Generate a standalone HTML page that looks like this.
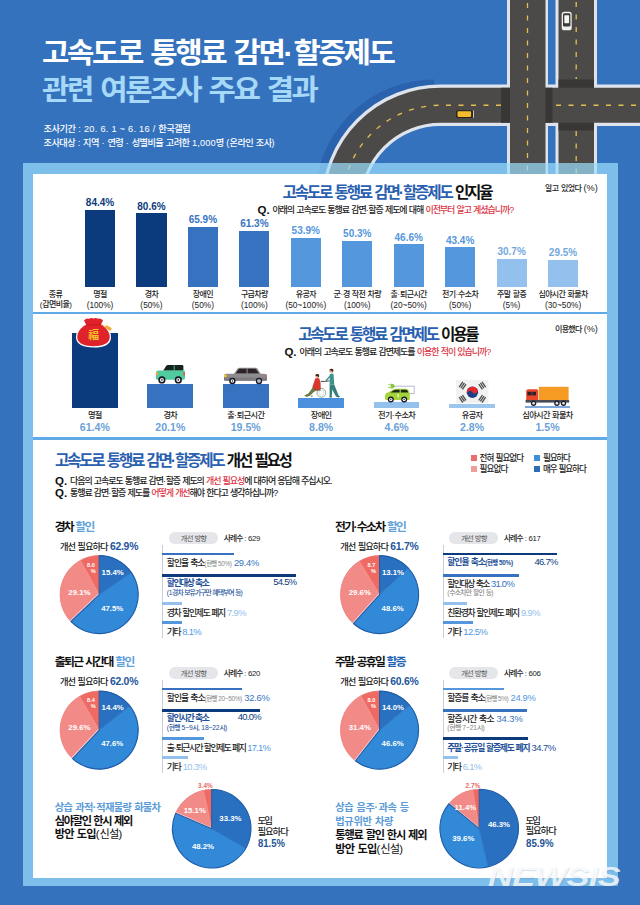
<!DOCTYPE html>
<html lang="ko"><head><meta charset="utf-8"><title>고속도로 통행료 감면·할증제도 관련 여론조사 주요 결과</title>
<style>
html,body{margin:0;padding:0}
body{width:640px;height:905px;overflow:hidden;background:#3572bd;font-family:"Liberation Sans","Noto Sans CJK KR",sans-serif}
#pg{position:relative;width:640px;height:905px;overflow:hidden}
.b{position:absolute}
.t{position:absolute;white-space:nowrap;line-height:1;height:1em;color:var(--c);letter-spacing:var(--ls,0em)}
.s{color:var(--c)}
.k{letter-spacing:calc(var(--ls,0em) - .08em);word-spacing:.08em;font-weight:500}
[style*="font-weight:700"] .k{font-weight:700}
[style*="font-weight:400"] .k{font-weight:400}
.k.r{font-weight:400}
svg.a{position:absolute;left:0;top:0;overflow:visible}
</style></head>
<body>
<div id="pg">
<svg class="a" width="640" height="210" viewBox="0 0 640 210"><path d="M440.5 105.25A98.25 98.25 0 0 0 342.25 203.5V210" transform="translate(-6.3,-5)" fill="none" stroke="#2b62ae" stroke-width="41.5"/><path d="M640 105.25H440.5A98.25 98.25 0 0 0 342.25 203.5V210" fill="none" stroke="#dfe3ec" stroke-width="41.5"/><rect x="507" y="0" width="41" height="200" fill="#dfe3ec"/><rect x="555.5" y="0" width="41.5" height="200" fill="#dfe3ec"/><rect x="558.5" y="0" width="35.5" height="200" fill="#4b4a49"/><path d="M576.2 2V79M576.2 131V200" stroke="#e3c04e" stroke-width="1.3" stroke-dasharray="5 7.5" fill="none"/><rect x="558.5" y="79.5" width="35.5" height="8.5" fill="#383736"/><rect x="558.5" y="122" width="35.5" height="8.5" fill="#383736"/><path d="M640 105.25H440.5A98.25 98.25 0 0 0 342.25 203.5V210" fill="none" stroke="#4b4a49" stroke-width="35"/><rect x="501" y="87.75" width="10" height="35" fill="#383736"/><rect x="545" y="87.75" width="7.5" height="35" fill="#383736"/><path d="M636 105.25H552.5M501 105.25H440.5A98.25 98.25 0 0 0 342.25 203.5V210" stroke="#e3c04e" stroke-width="1.3" stroke-dasharray="5 7.5" fill="none"/><rect x="510" y="0" width="35.5" height="200" fill="#4b4a49"/><path d="M527.5 3V200" stroke="#e3c04e" stroke-width="1.3" stroke-dasharray="5 7.5" fill="none"/><g><rect x="561.7" y="11.7" width="10" height="18.6" rx="2.6" fill="#f1f1ee"/><rect x="563" y="13.2" width="7.4" height="13.4" rx="1.4" fill="#3b3b3b"/><rect x="564.3" y="15.2" width="4.8" height="8" rx="0.6" fill="#f7f7f4"/></g><g><rect x="456" y="110.3" width="17" height="7.6" rx="1.6" fill="#2b2518"/><rect x="457.5" y="111.3" width="13.6" height="5.6" rx="0.8" fill="#f6bb2c"/><rect x="473.2" y="110.4" width="0.8" height="7.4" fill="#e8e8e0"/></g></svg>
<div class="b" style="left:22.50px;top:162.50px;width:595.00px;height:723.70px;background:rgba(156,222,253,0.70);"></div>
<div class="b" style="left:33.00px;top:174.00px;width:574.30px;height:138.00px;background:#fff;"></div>
<div class="b" style="left:33.00px;top:314.20px;width:574.30px;height:122.80px;background:#fff;"></div>
<div class="b" style="left:33.00px;top:439.50px;width:574.30px;height:438.00px;background:#fff;"></div>
<div class="b" style="left:33.00px;top:312.00px;width:574.30px;height:2.20px;background:#5fa9e6;"></div>
<div class="b" style="left:33.00px;top:437.00px;width:574.30px;height:2.50px;background:#5fa9e6;"></div>
<div class="t" style="left:41.60px;top:39.28px;font-size:28.4px;--c:#fff;font-weight:700;transform:scaleX(1.0482);transform-origin:0 0;--sw:22"><span class="k">고속도로 통행료 감면</span>·<span class="k">할증제도</span></div>
<div class="t" style="left:41.60px;top:76.48px;font-size:28.4px;--c:#a6d8f8;font-weight:700;transform:scaleX(1.0475);transform-origin:0 0;--sw:22"><span class="k">관련 여론조사 주요 결과</span></div>
<div class="t" style="left:43.60px;top:124.72px;font-size:9.2px;--c:#fff;--ls:0.029em"><span class="k">조사기간</span> : 20. 6. 1 ~ 6. 16  /  <span class="k">한국갤럽</span></div>
<div class="t" style="left:43.60px;top:138.52px;font-size:9.2px;--c:#fff;--ls:0.015em"><span class="k">조사대상</span> : <span class="k">지역</span> · <span class="k">연령</span> · <span class="k">성별비율 고려한</span> 1,000<span class="k">명</span> (<span class="k">온라인 조사</span>)</div>
<div class="t" style="left:282.60px;top:185.41px;font-size:15.6px;--c:#2a60b0;font-weight:700;--ls:-0.061em"><span class="k">고속도로 통행료 감면</span>·<span class="k">할증제도</span><span class="s" style="--c:#111"> <span class="k">인지율</span></span></div>
<div class="t" style="left:597.80px;top:184.26px;font-size:8.1px;--c:#1c1c1c;--ls:-0.001em;transform:translateX(-100%)"><span class="k">알고 있었다</span> <span class="s" style="font-size:9.2px">(%)</span></div>
<div class="t" style="left:257.60px;top:204.81px;font-size:11.5px;--c:#111;font-weight:700">Q.</div>
<div class="t" style="left:272.40px;top:206.02px;font-size:9px;--c:#222;--ls:-0.037em"><span class="k">아래의 고속로도 통행료 감면</span>·<span class="k">할증 제도에 대해</span> <span class="s" style="--c:#dc3545"><span class="k">이전부터 알고 계셨습니까</span>?</span></div>
<div class="t" style="left:55.50px;top:291.41px;font-size:8px;--c:#222;transform:translateX(-50%)"><span class="k">종류</span></div>
<div class="t" style="left:55.80px;top:301.11px;font-size:8px;--c:#222;transform:translateX(-50%)">(<span class="k">감면비율</span>)</div>
<div class="b" style="left:84.90px;top:210.03px;width:30.20px;height:76.97px;background:#0b3b7c;"></div>
<div class="t" style="left:100.00px;top:198.37px;font-size:10px;--c:#0b3b7c;font-weight:700;transform:translateX(-50%)">84.4%</div>
<div class="t" style="left:100.00px;top:291.41px;font-size:8px;--c:#222;transform:translateX(-50%)"><span class="k">명절</span></div>
<div class="t" style="left:100.00px;top:300.96px;font-size:8.3px;--c:#222;transform:translateX(-50%)">(100%)</div>
<div class="b" style="left:136.35px;top:213.48px;width:30.20px;height:73.52px;background:#0b3b7c;"></div>
<div class="t" style="left:151.45px;top:201.81px;font-size:10px;--c:#0b3b7c;font-weight:700;transform:translateX(-50%)">80.6%</div>
<div class="t" style="left:151.45px;top:291.41px;font-size:8px;--c:#222;transform:translateX(-50%)"><span class="k">경차</span></div>
<div class="t" style="left:151.45px;top:300.96px;font-size:8.3px;--c:#222;transform:translateX(-50%)">(50%)</div>
<div class="b" style="left:187.80px;top:226.79px;width:30.20px;height:60.21px;background:#3672c0;"></div>
<div class="t" style="left:202.90px;top:215.13px;font-size:10px;--c:#3672c0;font-weight:700;transform:translateX(-50%)">65.9%</div>
<div class="t" style="left:202.90px;top:291.41px;font-size:8px;--c:#222;transform:translateX(-50%)"><span class="k">장애인</span></div>
<div class="t" style="left:202.90px;top:300.96px;font-size:8.3px;--c:#222;transform:translateX(-50%)">(50%)</div>
<div class="b" style="left:239.25px;top:230.96px;width:30.20px;height:56.04px;background:#3672c0;"></div>
<div class="t" style="left:254.35px;top:219.30px;font-size:10px;--c:#3672c0;font-weight:700;transform:translateX(-50%)">61.3%</div>
<div class="t" style="left:254.35px;top:291.41px;font-size:8px;--c:#222;transform:translateX(-50%)"><span class="k">구급차량</span></div>
<div class="t" style="left:254.35px;top:300.96px;font-size:8.3px;--c:#222;transform:translateX(-50%)">(100%)</div>
<div class="b" style="left:290.70px;top:237.67px;width:30.20px;height:49.33px;background:#5497dc;"></div>
<div class="t" style="left:305.80px;top:226.00px;font-size:10px;--c:#5497dc;font-weight:700;transform:translateX(-50%)">53.9%</div>
<div class="t" style="left:305.80px;top:291.41px;font-size:8px;--c:#222;transform:translateX(-50%)"><span class="k">유공자</span></div>
<div class="t" style="left:305.80px;top:300.96px;font-size:8.3px;--c:#222;transform:translateX(-50%)">(50~100%)</div>
<div class="b" style="left:342.15px;top:240.93px;width:30.20px;height:46.07px;background:#5497dc;"></div>
<div class="t" style="left:357.25px;top:229.26px;font-size:10px;--c:#5497dc;font-weight:700;transform:translateX(-50%)">50.3%</div>
<div class="t" style="left:357.25px;top:291.41px;font-size:8px;--c:#222;transform:translateX(-50%)"><span class="k">군</span>·<span class="k">경 작전 차량</span></div>
<div class="t" style="left:357.25px;top:300.96px;font-size:8.3px;--c:#222;transform:translateX(-50%)">(100%)</div>
<div class="b" style="left:393.60px;top:244.28px;width:30.20px;height:42.72px;background:#5497dc;"></div>
<div class="t" style="left:408.70px;top:232.62px;font-size:10px;--c:#5497dc;font-weight:700;transform:translateX(-50%)">46.6%</div>
<div class="t" style="left:408.70px;top:291.41px;font-size:8px;--c:#222;transform:translateX(-50%)"><span class="k">출</span>·<span class="k">퇴근시간</span></div>
<div class="t" style="left:408.70px;top:300.96px;font-size:8.3px;--c:#222;transform:translateX(-50%)">(20~50%)</div>
<div class="b" style="left:445.05px;top:247.18px;width:30.20px;height:39.82px;background:#5497dc;"></div>
<div class="t" style="left:460.15px;top:235.51px;font-size:10px;--c:#5497dc;font-weight:700;transform:translateX(-50%)">43.4%</div>
<div class="t" style="left:460.15px;top:291.41px;font-size:8px;--c:#222;transform:translateX(-50%)"><span class="k">전기</span>·<span class="k">수소차</span></div>
<div class="t" style="left:460.15px;top:300.96px;font-size:8.3px;--c:#222;transform:translateX(-50%)">(50%)</div>
<div class="b" style="left:496.50px;top:258.69px;width:30.20px;height:28.31px;background:#93c0ec;"></div>
<div class="t" style="left:511.60px;top:247.02px;font-size:10px;--c:#74a8de;font-weight:700;transform:translateX(-50%)">30.7%</div>
<div class="t" style="left:511.60px;top:291.41px;font-size:8px;--c:#222;transform:translateX(-50%)"><span class="k">주말 할증</span></div>
<div class="t" style="left:511.60px;top:300.96px;font-size:8.3px;--c:#222;transform:translateX(-50%)">(5%)</div>
<div class="b" style="left:547.95px;top:259.77px;width:30.20px;height:27.23px;background:#93c0ec;"></div>
<div class="t" style="left:563.05px;top:248.11px;font-size:10px;--c:#74a8de;font-weight:700;transform:translateX(-50%)">29.5%</div>
<div class="t" style="left:563.05px;top:291.41px;font-size:8px;--c:#222;transform:translateX(-50%)"><span class="k">심야시간 화물차</span></div>
<div class="t" style="left:563.05px;top:300.96px;font-size:8.3px;--c:#222;transform:translateX(-50%)">(30~50%)</div>
<div class="t" style="left:298.20px;top:327.01px;font-size:15.6px;--c:#2a60b0;font-weight:700;--ls:-0.065em"><span class="k">고속도로 통행료 감면제도</span><span class="s" style="--c:#111"> <span class="k">이용률</span></span></div>
<div class="t" style="left:597.80px;top:325.26px;font-size:8.1px;--c:#1c1c1c;--ls:-0.015em;transform:translateX(-100%)"><span class="k">이용했다</span> <span class="s" style="font-size:9.2px">(%)</span></div>
<div class="t" style="left:284.40px;top:346.71px;font-size:11.5px;--c:#111;font-weight:700">Q.</div>
<div class="t" style="left:299.50px;top:347.92px;font-size:9px;--c:#222;--ls:-0.036em"><span class="k">아래의 고속로도 통행료 감면제도를</span> <span class="s" style="--c:#dc3545"><span class="k">이용한 적이 있습니까</span>?</span></div>
<div class="b" style="left:72.00px;top:333.30px;width:45.70px;height:74.70px;background:#0b3b7c;"></div>
<div class="t" style="left:94.85px;top:412.01px;font-size:8.2px;--c:#222;transform:translateX(-50%)"><span class="k">명절</span></div>
<div class="t" style="left:94.85px;top:422.14px;font-size:10.6px;--c:#6ba1d8;font-weight:700;transform:translateX(-50%)">61.4%</div>
<div class="b" style="left:147.45px;top:383.80px;width:45.70px;height:24.20px;background:#3672c0;"></div>
<div class="t" style="left:170.30px;top:412.01px;font-size:8.2px;--c:#222;transform:translateX(-50%)"><span class="k">경차</span></div>
<div class="t" style="left:170.30px;top:422.14px;font-size:10.6px;--c:#6ba1d8;font-weight:700;transform:translateX(-50%)">20.1%</div>
<div class="b" style="left:222.90px;top:384.20px;width:45.70px;height:23.80px;background:#3672c0;"></div>
<div class="t" style="left:245.75px;top:412.01px;font-size:8.2px;--c:#222;transform:translateX(-50%)"><span class="k">출</span>·<span class="k">퇴근시간</span></div>
<div class="t" style="left:245.75px;top:422.14px;font-size:10.6px;--c:#6ba1d8;font-weight:700;transform:translateX(-50%)">19.5%</div>
<div class="b" style="left:298.35px;top:397.50px;width:45.70px;height:10.50px;background:#4b90dc;"></div>
<div class="t" style="left:321.20px;top:412.01px;font-size:8.2px;--c:#222;transform:translateX(-50%)"><span class="k">장애인</span></div>
<div class="t" style="left:321.20px;top:422.14px;font-size:10.6px;--c:#6ba1d8;font-weight:700;transform:translateX(-50%)">8.8%</div>
<div class="b" style="left:373.80px;top:402.30px;width:45.70px;height:5.70px;background:#93c1ec;"></div>
<div class="t" style="left:396.65px;top:412.01px;font-size:8.2px;--c:#222;transform:translateX(-50%)"><span class="k">전기</span>·<span class="k">수소차</span></div>
<div class="t" style="left:396.65px;top:422.14px;font-size:10.6px;--c:#6ba1d8;font-weight:700;transform:translateX(-50%)">4.6%</div>
<div class="b" style="left:449.25px;top:404.20px;width:45.70px;height:3.80px;background:#9cc6ee;"></div>
<div class="t" style="left:472.10px;top:412.01px;font-size:8.2px;--c:#222;transform:translateX(-50%)"><span class="k">유공자</span></div>
<div class="t" style="left:472.10px;top:422.14px;font-size:10.6px;--c:#6ba1d8;font-weight:700;transform:translateX(-50%)">2.8%</div>
<div class="b" style="left:524.70px;top:406.40px;width:45.70px;height:1.60px;background:#7ba6dc;"></div>
<div class="t" style="left:547.55px;top:412.01px;font-size:8.2px;--c:#222;transform:translateX(-50%)"><span class="k">심야시간 화물차</span></div>
<div class="t" style="left:547.55px;top:422.14px;font-size:10.6px;--c:#6ba1d8;font-weight:700;transform:translateX(-50%)">1.5%</div>
<svg class="a" width="640" height="905" viewBox="0 0 640 905"><path d="M86.8 324.6C80.5 327.2 77 332.6 77.3 337.8C77.8 344.2 85.5 346.2 93.5 346.2S109.2 344.2 109.7 337.8C110 332.6 106.5 327.2 100.2 324.6Z" fill="#fff" stroke="#fff" stroke-width="2.6" stroke-linejoin="round"/><path d="M101 324.3L106.5 327.2" stroke="#f3c15a" stroke-width="1" fill="none"/><path d="M106.3 325.1L111.9 328.2L110.2 331L105 327.6Z" fill="#f0ad35"/><path d="M86.8 324.6C80.5 327.2 77 332.6 77.3 337.8C77.8 344.2 85.5 346.2 93.5 346.2S109.2 344.2 109.7 337.8C110 332.6 106.5 327.2 100.2 324.6Z" fill="#e0222b"/><path d="M84 320.4Q86.5 317.6 89 318.8Q91.3 317.3 93.5 318.4Q95.8 317.3 98 318.8Q100.5 317.6 103 320.4L100.6 325.2H86.4Z" fill="#e0222b"/><path d="M86.6 324.3Q93.5 326 100.4 324.3" stroke="#c4151f" stroke-width="0.8" fill="none"/><text x="88.3" y="338.7" font-size="10.8" font-weight="700" fill="#f7c628" font-family="'Liberation Sans','Noto Sans CJK KR',sans-serif">福</text><g><path d="M163.2 370.8L166.3 365.8Q166.8 365 167.8 365H182Q183.4 365 183.4 366.4V370.8Z" fill="#17241d"/><path d="M174.2 365.4V370.6" stroke="#4dcb9b" stroke-width="0.9"/><path d="M156.2 372.4Q156.2 370.6 158 370.6H183.6Q185 370.6 185 372V378Q185 379.8 183.4 379.8H157.4Q155.8 379.8 155.8 378.2Z" fill="#4fcb9d"/><rect x="155.8" y="372.3" width="2.4" height="3" rx="0.8" fill="#f2a23a"/><rect x="183.3" y="372.3" width="1.7" height="3.2" fill="#e4574a"/><circle cx="161.9" cy="379.9" r="3.6" fill="#161626"/><circle cx="161.9" cy="379.9" r="2" fill="#fff"/><circle cx="161.9" cy="379.9" r="0.8" fill="#161626"/><circle cx="178.3" cy="379.9" r="3.6" fill="#161626"/><circle cx="178.3" cy="379.9" r="2" fill="#fff"/><circle cx="178.3" cy="379.9" r="0.8" fill="#161626"/></g><g><path d="M233.6 374.2L237.6 368.6Q238.2 367.7 239.4 367.7H255.4Q256.6 367.7 257.3 368.6L261 374.2Z" fill="#8f8c8f"/><path d="M235.6 373.6L238.6 369.2Q239 368.7 239.7 368.7H246.6V373.6ZM247.6 368.7H255Q255.7 368.7 256.1 369.2L259 373.6H247.6Z" fill="#2b2327"/><path d="M224 376Q224 373.8 226.4 373.7H264Q267 373.8 267 376.2V379.2Q267 380.8 265.4 380.8H225.6Q224 380.8 224 379.2Z" fill="#8f8c8f"/><path d="M224 377.6H267V379.4Q267 380.8 265.4 380.8H225.6Q224 380.8 224 379.4Z" fill="#7e7b7f"/><rect x="224" y="374.6" width="2.8" height="2.6" rx="0.8" fill="#f2c230"/><rect x="265.4" y="374.6" width="1.6" height="2.6" fill="#c96a6a"/><circle cx="232.4" cy="381" r="3.2" fill="#17172a"/><circle cx="232.4" cy="381" r="1.8" fill="#fff"/><circle cx="232.4" cy="381" r="0.7" fill="#17172a"/><circle cx="259" cy="381" r="3.2" fill="#17172a"/><circle cx="259" cy="381" r="1.8" fill="#fff"/><circle cx="259" cy="381" r="0.7" fill="#17172a"/></g><g><circle cx="321.4" cy="392.8" r="4.4" fill="none" stroke="#8fae9c" stroke-width="1"/><circle cx="321.4" cy="392.8" r="2.6" fill="none" stroke="#b9cfc3" stroke-width="0.6"/><path d="M312.6 391.6L316.4 390.4" stroke="#777" stroke-width="0.7"/><circle cx="311.8" cy="396.2" r="1" fill="#8fae9c"/><path d="M312.8 386.4L317.4 385.2L320.4 386.8V390.6H315.4L310.2 395.6L306.8 397L304.2 395.4L308.4 393.6L312 388.4Z" fill="#6b7a45"/><path d="M313 387L319.8 386.6V390.2H314.6Z" fill="#7a4a2a"/><path d="M315.2 378.6Q317.4 377.2 319.4 378.6L320.6 383.2V389.4H314.4L312.6 386.4Z" fill="#d9382f"/><path d="M313.4 386.4L316.4 384.6" stroke="#d9382f" stroke-width="1.4"/><circle cx="317" cy="376" r="1.9" fill="#e8b08a"/><path d="M315.2 375.4Q316.6 373 319.2 374.6L319 377.6Q317.8 375.6 315.2 375.4Z" fill="#3a2a22"/><path d="M320.6 381.4H325.6L329.6 380.8" stroke="#3a3a3a" stroke-width="0.9" fill="none"/><circle cx="331.2" cy="370.8" r="2" fill="#e0a47c"/><path d="M329.4 370Q330.8 367.8 333.4 369.4L333 372.4Q332.2 370.4 329.4 370Z" fill="#3a2418"/><path d="M329.8 374.2Q331.6 373 333.6 374.2L334.2 384.6H329.6Z" fill="#3f918c"/><path d="M330.2 376L325.8 381" stroke="#3f918c" stroke-width="1.3"/><path d="M329.6 384.4H334.2L338.6 395.4L340.2 396.6L338.4 397.6L336 396.4L332.2 389.4L331.8 396.2L332.4 397.5H329L329.6 396Z" fill="#357f7a"/></g><g><path d="M392.2 386.2H414.2V393.6H409.6" fill="none" stroke="#9b9ab8" stroke-width="0.7"/><path d="M388 384.8H390.8M388 387.6H390.8" stroke="#8bc53f" stroke-width="0.8"/><path d="M390.6 383.8H392.4Q394.6 384.2 394.6 386.2T392.4 388.6H390.6Z" fill="#8bc53f"/><path d="M385 395.4Q385.4 392.8 388.6 392.2L393.2 389.4Q394.4 388.8 395.8 388.8H405.8Q408 388.8 408.8 390.6L409.8 393.4V399Q409.8 400 408.8 400H386.4Q385 400 385 398.6Z" fill="#a5d33a"/><path d="M390.4 392.4L393.8 390.2Q394.6 389.8 395.6 389.8H399.6V392.4ZM400.8 389.8H405.4Q407.2 389.8 407.8 391.2L408.2 392.4H400.8Z" fill="#1d2a1a"/><rect x="397.4" y="394" width="1.6" height="3.2" fill="#e9f4b0"/><circle cx="390.8" cy="399.6" r="3" fill="#17172a"/><circle cx="390.8" cy="399.6" r="1.7" fill="#fff"/><circle cx="390.8" cy="399.6" r="0.7" fill="#17172a"/><circle cx="404.2" cy="399.6" r="3" fill="#17172a"/><circle cx="404.2" cy="399.6" r="1.7" fill="#fff"/><circle cx="404.2" cy="399.6" r="0.7" fill="#17172a"/></g><g><rect x="456.2" y="379.8" width="32.2" height="23.4" fill="#f1f1f2"/><circle cx="472.4" cy="392.2" r="5.7" fill="#1c3f86"/><path d="M467.66 395.36A5.7 5.7 0 0 1 477.14 389.04A2.85 2.85 0 0 1 472.4 392.2A2.85 2.85 0 0 0 467.66 395.36Z" fill="#e8262b"/><g transform="translate(462.6,385.6) rotate(-56)" fill="#4b4b4b"><rect x="-3.2" y="-2.6" width="6.4" height="1.3"/><rect x="-3.2" y="-0.65" width="6.4" height="1.3"/><rect x="-3.2" y="1.3" width="6.4" height="1.3"/></g><g transform="translate(482.2,398.8) rotate(-56)" fill="#4b4b4b"><rect x="-3.2" y="-2.6" width="6.4" height="1.3"/><rect x="-3.2" y="-0.65" width="6.4" height="1.3"/><rect x="-3.2" y="1.3" width="6.4" height="1.3"/></g><g transform="translate(482.2,385.6) rotate(56)" fill="#4b4b4b"><rect x="-3.2" y="-2.6" width="6.4" height="1.3"/><rect x="-3.2" y="-0.65" width="6.4" height="1.3"/><rect x="-3.2" y="1.3" width="6.4" height="1.3"/></g><g transform="translate(462.6,398.8) rotate(56)" fill="#4b4b4b"><rect x="-3.2" y="-2.6" width="6.4" height="1.3"/><rect x="-3.2" y="-0.65" width="6.4" height="1.3"/><rect x="-3.2" y="1.3" width="6.4" height="1.3"/></g></g><g><rect x="538.8" y="386.8" width="29.8" height="13.4" fill="#f59a23"/><path d="M526.2 391.2Q526.2 389.2 528.2 389.2H536.6Q538.2 389.2 538.2 390.8V401.4H526.2Z" fill="#e8452a"/><rect x="527.4" y="391.8" width="8.6" height="3.6" fill="#2a2226"/><path d="M531.9 391.8V395.4" stroke="#e8452a" stroke-width="0.6"/><rect x="525.6" y="400" width="43.6" height="2.6" fill="#4a4a54"/><circle cx="533.6" cy="403.3" r="2.7" fill="#23232f"/><circle cx="533.6" cy="403.3" r="1.3" fill="#e9e9ee"/><circle cx="556.9" cy="403.3" r="2.7" fill="#23232f"/><circle cx="556.9" cy="403.3" r="1.3" fill="#e9e9ee"/><circle cx="563.5" cy="403.3" r="2.7" fill="#23232f"/><circle cx="563.5" cy="403.3" r="1.3" fill="#e9e9ee"/></g></svg>
<svg class="a" width="640" height="905" viewBox="0 0 640 905"><path d="M99.2 594.6L99.20 555.60A39 39 0 0 1 131.32 572.48Z" fill="#2a70c0" stroke="#2a70c0" stroke-width="0.4"/><path d="M99.2 594.6L131.32 572.48A39 39 0 0 1 70.94 621.48Z" fill="#3189d8" stroke="#3189d8" stroke-width="0.4"/><path d="M99.2 594.6L70.94 621.48A39 39 0 0 1 80.41 560.42Z" fill="#f28b88" stroke="#f28b88" stroke-width="0.4"/><path d="M99.2 594.6L80.41 560.42A39 39 0 0 1 99.20 555.60Z" fill="#ef6a62" stroke="#ef6a62" stroke-width="0.4"/><path d="M70.94 621.48A39 39 0 0 1 99.20 555.60" fill="none" stroke="#ec7f7b" stroke-width="0.8"/><path d="M99.2 594.6L80.41 560.42" stroke="#f6a9a4" stroke-width="0.5"/><path d="M99.2 594.6L131.32 572.48" stroke="#2465b4" stroke-width="0.6"/><path d="M99.2 594.6L70.94 621.48" stroke="#fff" stroke-width="1.2" transform="translate(-0.6,-0.5)" opacity="0.7"/><path d="M99.2 594.6L99.20 555.60A39 39 0 1 1 70.94 621.48Z" fill="none" stroke="#1e5ca8" stroke-width="1.1" stroke-linejoin="round"/><path d="M379.59999999999997 594.6L379.60 555.60A39 39 0 0 1 408.20 568.08Z" fill="#2a70c0" stroke="#2a70c0" stroke-width="0.4"/><path d="M379.59999999999997 594.6L408.20 568.08A39 39 0 0 1 353.44 623.53Z" fill="#3189d8" stroke="#3189d8" stroke-width="0.4"/><path d="M379.59999999999997 594.6L353.44 623.53A39 39 0 0 1 359.33 561.28Z" fill="#f28b88" stroke="#f28b88" stroke-width="0.4"/><path d="M379.59999999999997 594.6L359.33 561.28A39 39 0 0 1 379.60 555.60Z" fill="#ef6a62" stroke="#ef6a62" stroke-width="0.4"/><path d="M353.44 623.53A39 39 0 0 1 379.60 555.60" fill="none" stroke="#ec7f7b" stroke-width="0.8"/><path d="M379.59999999999997 594.6L359.33 561.28" stroke="#f6a9a4" stroke-width="0.5"/><path d="M379.59999999999997 594.6L408.20 568.08" stroke="#2465b4" stroke-width="0.6"/><path d="M379.59999999999997 594.6L353.44 623.53" stroke="#fff" stroke-width="1.2" transform="translate(-0.6,-0.5)" opacity="0.7"/><path d="M379.59999999999997 594.6L379.60 555.60A39 39 0 1 1 353.44 623.53Z" fill="none" stroke="#1e5ca8" stroke-width="1.1" stroke-linejoin="round"/><path d="M99.2 730.1L99.20 691.10A39 39 0 0 1 129.87 706.00Z" fill="#2a70c0" stroke="#2a70c0" stroke-width="0.4"/><path d="M99.2 730.1L129.87 706.00A39 39 0 0 1 72.50 758.53Z" fill="#3189d8" stroke="#3189d8" stroke-width="0.4"/><path d="M99.2 730.1L72.50 758.53A39 39 0 0 1 79.56 696.41Z" fill="#f28b88" stroke="#f28b88" stroke-width="0.4"/><path d="M99.2 730.1L79.56 696.41A39 39 0 0 1 99.20 691.10Z" fill="#ef6a62" stroke="#ef6a62" stroke-width="0.4"/><path d="M72.50 758.53A39 39 0 0 1 99.20 691.10" fill="none" stroke="#ec7f7b" stroke-width="0.8"/><path d="M99.2 730.1L79.56 696.41" stroke="#f6a9a4" stroke-width="0.5"/><path d="M99.2 730.1L129.87 706.00" stroke="#2465b4" stroke-width="0.6"/><path d="M99.2 730.1L72.50 758.53" stroke="#fff" stroke-width="1.2" transform="translate(-0.6,-0.5)" opacity="0.7"/><path d="M99.2 730.1L99.20 691.10A39 39 0 1 1 72.50 758.53Z" fill="none" stroke="#1e5ca8" stroke-width="1.1" stroke-linejoin="round"/><path d="M379.59999999999997 730.1L379.60 691.10A39 39 0 0 1 409.65 705.24Z" fill="#2a70c0" stroke="#2a70c0" stroke-width="0.4"/><path d="M379.59999999999997 730.1L409.65 705.24A39 39 0 0 1 355.50 760.77Z" fill="#3189d8" stroke="#3189d8" stroke-width="0.4"/><path d="M379.59999999999997 730.1L355.50 760.77A39 39 0 0 1 360.81 695.92Z" fill="#f28b88" stroke="#f28b88" stroke-width="0.4"/><path d="M379.59999999999997 730.1L360.81 695.92A39 39 0 0 1 379.60 691.10Z" fill="#ef6a62" stroke="#ef6a62" stroke-width="0.4"/><path d="M355.50 760.77A39 39 0 0 1 379.60 691.10" fill="none" stroke="#ec7f7b" stroke-width="0.8"/><path d="M379.59999999999997 730.1L360.81 695.92" stroke="#f6a9a4" stroke-width="0.5"/><path d="M379.59999999999997 730.1L409.65 705.24" stroke="#2465b4" stroke-width="0.6"/><path d="M379.59999999999997 730.1L355.50 760.77" stroke="#fff" stroke-width="1.2" transform="translate(-0.6,-0.5)" opacity="0.7"/><path d="M379.59999999999997 730.1L379.60 691.10A39 39 0 1 1 355.50 760.77Z" fill="none" stroke="#1e5ca8" stroke-width="1.1" stroke-linejoin="round"/><path d="M211.7 828.7L211.70 789.50A39.2 39.2 0 0 1 245.69 848.23Z" fill="#2a70c0" stroke="#2a70c0" stroke-width="0.4"/><path d="M211.7 828.7L245.69 848.23A39.2 39.2 0 0 1 175.72 813.13Z" fill="#3189d8" stroke="#3189d8" stroke-width="0.4"/><path d="M211.7 828.7L175.72 813.13A39.2 39.2 0 0 1 203.39 790.39Z" fill="#f28b88" stroke="#f28b88" stroke-width="0.4"/><path d="M211.7 828.7L203.39 790.39A39.2 39.2 0 0 1 211.70 789.50Z" fill="#ef6a62" stroke="#ef6a62" stroke-width="0.4"/><path d="M175.72 813.13A39.2 39.2 0 0 1 211.70 789.50" fill="none" stroke="#ec7f7b" stroke-width="0.8"/><path d="M211.7 828.7L203.39 790.39" stroke="#f6a9a4" stroke-width="0.5"/><path d="M211.7 828.7L245.69 848.23" stroke="#2465b4" stroke-width="0.6"/><path d="M211.7 828.7L175.72 813.13" stroke="#fff" stroke-width="1.2" transform="translate(0,-0.5)" opacity="0.7"/><path d="M211.7 828.7L211.70 789.50A39.2 39.2 0 1 1 175.72 813.13Z" fill="none" stroke="#1e5ca8" stroke-width="1.1" stroke-linejoin="round"/><path d="M479.2 828.6L479.20 789.40A39.2 39.2 0 0 1 488.23 866.75Z" fill="#2a70c0" stroke="#2a70c0" stroke-width="0.4"/><path d="M479.2 828.6L488.23 866.75A39.2 39.2 0 0 1 448.84 803.80Z" fill="#3189d8" stroke="#3189d8" stroke-width="0.4"/><path d="M479.2 828.6L448.84 803.80A39.2 39.2 0 0 1 472.58 789.96Z" fill="#f28b88" stroke="#f28b88" stroke-width="0.4"/><path d="M479.2 828.6L472.58 789.96A39.2 39.2 0 0 1 479.20 789.40Z" fill="#ef6a62" stroke="#ef6a62" stroke-width="0.4"/><path d="M448.84 803.80A39.2 39.2 0 0 1 479.20 789.40" fill="none" stroke="#ec7f7b" stroke-width="0.8"/><path d="M479.2 828.6L472.58 789.96" stroke="#f6a9a4" stroke-width="0.5"/><path d="M479.2 828.6L488.23 866.75" stroke="#2465b4" stroke-width="0.6"/><path d="M479.2 828.6L448.84 803.80" stroke="#fff" stroke-width="1.2" transform="translate(0,-0.5)" opacity="0.7"/><path d="M479.2 828.6L479.20 789.40A39.2 39.2 0 1 1 448.84 803.80Z" fill="none" stroke="#1e5ca8" stroke-width="1.1" stroke-linejoin="round"/></svg>
<div class="t" style="left:55.00px;top:452.91px;font-size:15.6px;--c:#2a60b0;font-weight:700;--ls:-0.063em"><span class="k">고속도로 통행료 감면</span>·<span class="k">할증제도</span><span class="s" style="--c:#111"> <span class="k">개선 필요성</span></span></div>
<div class="t" style="left:55.00px;top:476.01px;font-size:11.5px;--c:#111;font-weight:700">Q.</div>
<div class="t" style="left:55.00px;top:487.91px;font-size:11.5px;--c:#111;font-weight:700">Q.</div>
<div class="t" style="left:70.00px;top:477.22px;font-size:9px;--c:#222;--ls:-0.039em"><span class="k">다음의 고속로도 통행료 감면</span>·<span class="k">할증 제도의</span> <span class="s" style="--c:#dc3545"><span class="k">개선 필요성</span></span><span class="k">에 대하여 응답해 주십시오</span>.</div>
<div class="t" style="left:70.00px;top:489.12px;font-size:9px;--c:#222;--ls:-0.038em"><span class="k">통행료 감면</span>·<span class="k">할증 제도를</span> <span class="s" style="--c:#dc3545"><span class="k">어떻게 개선</span></span><span class="k">해야 한다고 생각하십니까</span>?</div>
<div class="b" style="left:471.00px;top:455.40px;width:5.50px;height:5.50px;background:#ea6c6c;"></div>
<div class="b" style="left:471.00px;top:466.20px;width:5.50px;height:5.50px;background:#ee9d9d;"></div>
<div class="b" style="left:534.30px;top:455.40px;width:5.50px;height:5.50px;background:#3f8fd6;"></div>
<div class="b" style="left:534.30px;top:466.20px;width:5.50px;height:5.50px;background:#2b6db6;"></div>
<div class="t" style="left:479.60px;top:453.72px;font-size:8.6px;--c:#222;--ls:-0.036em"><span class="k">전혀 필요없다</span></div>
<div class="t" style="left:479.60px;top:464.62px;font-size:8.6px;--c:#222;--ls:-0.025em"><span class="k">필요없다</span></div>
<div class="t" style="left:543.00px;top:453.72px;font-size:8.6px;--c:#222;--ls:-0.064em"><span class="k">필요하다</span></div>
<div class="t" style="left:543.00px;top:464.62px;font-size:8.6px;--c:#222;--ls:-0.050em"><span class="k">매우 필요하다</span></div>
<div class="t" style="left:54.70px;top:521.96px;font-size:11.8px;--c:#111;font-weight:700;--ls:-0.070em"><span class="k">경차</span><span class="s" style="--c:#64a3da"> <span class="k">할인</span></span></div>
<div class="t" style="left:99.00px;top:541.88px;font-size:9.3px;--c:#222;--ls:-0.027em;transform:translateX(-50%)"><span class="k">개선 필요하다</span> <span class="s" style="--c:#1d559c;font-size:10.4px;font-weight:700">62.9%</span></div>
<div class="t" style="left:112.60px;top:568.71px;font-size:7.8px;--c:#fff;font-weight:700;transform:translateX(-50%)">15.4%</div>
<div class="t" style="left:112.20px;top:604.71px;font-size:7.8px;--c:#fff;font-weight:700;transform:translateX(-50%)">47.5%</div>
<div class="t" style="left:79.40px;top:588.81px;font-size:7.8px;--c:#fff;font-weight:700;transform:translateX(-50%)">29.1%</div>
<div class="t" style="left:91.00px;top:563.18px;font-size:5.6px;--c:#fff;font-weight:700;transform:translateX(-50%)">8.0</div>
<div class="t" style="left:93.20px;top:568.68px;font-size:5.6px;--c:#fff;font-weight:700;transform:translateX(-50%)">%</div>
<div class="b" style="left:168.80px;top:532.20px;width:49.20px;height:11.60px;background:#e5e6e9;border-radius:5.8px"></div>
<div class="t" style="left:193.50px;top:534.75px;font-size:7.3px;--c:#555;--ls:-0.031em;transform:translateX(-50%)"><span class="k r">개선 방향</span></div>
<div class="t" style="left:223.70px;top:534.51px;font-size:7.8px;--c:#222;--ls:-0.039em"><span class="k">사례수</span> : 629</div>
<div class="b" style="left:162.20px;top:545.00px;width:0.80px;height:92.50px;background:#c5cfdd;"></div>
<div class="b" style="left:162.40px;top:552.50px;width:71.88px;height:2.80px;background:#3672c0;"></div>
<div class="t" style="left:166.80px;top:558.42px;font-size:8.8px;--c:#222;--ls:-0.035em"><span class="k">할인율 축소</span><span class="s" style="--c:#8a8a8a;font-size:6.4px">(<span class="k">현행</span> 50%)</span><span class="s" style="--c:#3672c0;font-size:9.4px"> 29.4%</span></div>
<div class="b" style="left:162.40px;top:573.80px;width:133.25px;height:2.80px;background:#0b3b7c;"></div>
<div class="t" style="left:166.80px;top:578.92px;font-size:8.8px;--c:#222;--ls:-0.086em"><span class="s" style="--c:#1d4f97;font-weight:700"><span class="k">할인대상 축소</span></span></div>
<div class="t" style="left:296.45px;top:577.33px;font-size:9.4px;--c:#0b3b7c;--ls:-0.071em;transform:translateX(-100%)">54.5%</div>
<div class="t" style="left:166.80px;top:589.69px;font-size:6.8px;--c:#1d4f97;--ls:-0.057em">(1<span class="k">경차</span>  <span class="k">보유가구만 혜택부여 등</span>)</div>
<div class="b" style="left:162.40px;top:602.20px;width:19.32px;height:2.80px;background:#93c0ec;"></div>
<div class="t" style="left:166.80px;top:607.92px;font-size:8.8px;--c:#222;--ls:-0.067em"><span class="k">경차 할인제도 폐지</span><span class="s" style="--c:#93c0ec;font-size:9.4px"> 7.9%</span></div>
<div class="b" style="left:162.40px;top:621.20px;width:19.80px;height:2.80px;background:#5497dc;"></div>
<div class="t" style="left:166.80px;top:626.82px;font-size:8.8px;--c:#222;--ls:-0.076em"><span class="k">기타</span><span class="s" style="--c:#5497dc;font-size:9.4px"> 8.1%</span></div>
<div class="t" style="left:335.10px;top:521.96px;font-size:11.8px;--c:#111;font-weight:700;--ls:-0.060em"><span class="k">전기</span>·<span class="k">수소차</span><span class="s" style="--c:#64a3da"> <span class="k">할인</span></span></div>
<div class="t" style="left:379.40px;top:541.88px;font-size:9.3px;--c:#222;--ls:-0.027em;transform:translateX(-50%)"><span class="k">개선 필요하다</span> <span class="s" style="--c:#1d559c;font-size:10.4px;font-weight:700">61.7%</span></div>
<div class="t" style="left:393.00px;top:568.71px;font-size:7.8px;--c:#fff;font-weight:700;transform:translateX(-50%)">13.1%</div>
<div class="t" style="left:392.60px;top:604.71px;font-size:7.8px;--c:#fff;font-weight:700;transform:translateX(-50%)">48.6%</div>
<div class="t" style="left:359.80px;top:588.81px;font-size:7.8px;--c:#fff;font-weight:700;transform:translateX(-50%)">29.6%</div>
<div class="t" style="left:371.40px;top:563.18px;font-size:5.6px;--c:#fff;font-weight:700;transform:translateX(-50%)">8.7</div>
<div class="t" style="left:373.60px;top:568.68px;font-size:5.6px;--c:#fff;font-weight:700;transform:translateX(-50%)">%</div>
<div class="b" style="left:449.20px;top:532.20px;width:49.20px;height:11.60px;background:#e5e6e9;border-radius:5.8px"></div>
<div class="t" style="left:473.90px;top:534.75px;font-size:7.3px;--c:#555;--ls:-0.031em;transform:translateX(-50%)"><span class="k r">개선 방향</span></div>
<div class="t" style="left:504.10px;top:534.51px;font-size:7.8px;--c:#222;--ls:-0.039em"><span class="k">사례수</span> : 617</div>
<div class="b" style="left:442.60px;top:545.00px;width:0.80px;height:92.50px;background:#c5cfdd;"></div>
<div class="b" style="left:442.80px;top:552.50px;width:114.18px;height:2.80px;background:#0b3b7c;"></div>
<div class="t" style="left:447.20px;top:558.42px;font-size:8.8px;--c:#222;--ls:-0.027em"><span class="s" style="--c:#1d4f97;font-weight:700"><span class="k">할인율 축소</span></span><span class="s" style="--c:#1d4f97;font-size:6.4px;font-weight:700">(<span class="k">현행</span> 50%)</span></div>
<div class="t" style="left:557.78px;top:556.83px;font-size:9.4px;--c:#0b3b7c;--ls:-0.071em;transform:translateX(-100%)">46.7%</div>
<div class="b" style="left:442.80px;top:573.80px;width:75.80px;height:2.80px;background:#3672c0;"></div>
<div class="t" style="left:447.20px;top:578.92px;font-size:8.8px;--c:#222;--ls:-0.080em"><span class="k">할인대상 축소</span><span class="s" style="--c:#3672c0;font-size:9.4px"> 31.0%</span></div>
<div class="t" style="left:447.20px;top:589.69px;font-size:6.8px;--c:#8a8a8a;--ls:-0.029em">(<span class="k">수소차만</span>  <span class="k">할인 등</span>)</div>
<div class="b" style="left:442.80px;top:602.20px;width:24.21px;height:2.80px;background:#93c0ec;"></div>
<div class="t" style="left:447.20px;top:607.92px;font-size:8.8px;--c:#222;--ls:-0.067em"><span class="k">친환경차 할인제도 폐지</span><span class="s" style="--c:#93c0ec;font-size:9.4px"> 9.9%</span></div>
<div class="b" style="left:442.80px;top:621.20px;width:30.56px;height:2.80px;background:#5497dc;"></div>
<div class="t" style="left:447.20px;top:626.82px;font-size:8.8px;--c:#222;--ls:-0.053em"><span class="k">기타</span><span class="s" style="--c:#5497dc;font-size:9.4px"> 12.5%</span></div>
<div class="t" style="left:54.70px;top:656.96px;font-size:11.8px;--c:#111;font-weight:700;--ls:-0.057em"><span class="k">출퇴근 시간대</span><span class="s" style="--c:#64a3da"> <span class="k">할인</span></span></div>
<div class="t" style="left:99.00px;top:676.88px;font-size:9.3px;--c:#222;--ls:-0.027em;transform:translateX(-50%)"><span class="k">개선 필요하다</span> <span class="s" style="--c:#1d559c;font-size:10.4px;font-weight:700">62.0%</span></div>
<div class="t" style="left:112.60px;top:703.71px;font-size:7.8px;--c:#fff;font-weight:700;transform:translateX(-50%)">14.4%</div>
<div class="t" style="left:112.20px;top:739.71px;font-size:7.8px;--c:#fff;font-weight:700;transform:translateX(-50%)">47.6%</div>
<div class="t" style="left:79.40px;top:723.81px;font-size:7.8px;--c:#fff;font-weight:700;transform:translateX(-50%)">29.6%</div>
<div class="t" style="left:91.00px;top:698.18px;font-size:5.6px;--c:#fff;font-weight:700;transform:translateX(-50%)">8.4</div>
<div class="t" style="left:93.20px;top:703.68px;font-size:5.6px;--c:#fff;font-weight:700;transform:translateX(-50%)">%</div>
<div class="b" style="left:168.80px;top:667.20px;width:49.20px;height:11.60px;background:#e5e6e9;border-radius:5.8px"></div>
<div class="t" style="left:193.50px;top:669.75px;font-size:7.3px;--c:#555;--ls:-0.031em;transform:translateX(-50%)"><span class="k r">개선 방향</span></div>
<div class="t" style="left:223.70px;top:669.51px;font-size:7.8px;--c:#222;--ls:-0.039em"><span class="k">사례수</span> : 620</div>
<div class="b" style="left:162.20px;top:680.00px;width:0.80px;height:92.50px;background:#c5cfdd;"></div>
<div class="b" style="left:162.40px;top:687.50px;width:79.71px;height:2.80px;background:#3672c0;"></div>
<div class="t" style="left:166.80px;top:693.42px;font-size:8.8px;--c:#222;--ls:-0.032em"><span class="k">할인율 축소</span><span class="s" style="--c:#8a8a8a;font-size:6.4px">(<span class="k">현행</span> 20~50%)</span><span class="s" style="--c:#3672c0;font-size:9.4px"> 32.6%</span></div>
<div class="b" style="left:162.40px;top:708.80px;width:97.80px;height:2.80px;background:#0b3b7c;"></div>
<div class="t" style="left:166.80px;top:713.92px;font-size:8.8px;--c:#222;--ls:-0.086em"><span class="s" style="--c:#1d4f97;font-weight:700"><span class="k">할인시간 축소</span></span></div>
<div class="t" style="left:261.00px;top:712.33px;font-size:9.4px;--c:#0b3b7c;--ls:-0.071em;transform:translateX(-100%)">40.0%</div>
<div class="t" style="left:166.80px;top:724.69px;font-size:6.8px;--c:#1d4f97;--ls:-0.030em">(<span class="k">현행</span> 5~9<span class="k">시</span>,  18~22<span class="k">시</span>)</div>
<div class="b" style="left:162.40px;top:737.20px;width:41.81px;height:2.80px;background:#5497dc;"></div>
<div class="t" style="left:166.80px;top:742.92px;font-size:8.8px;--c:#222;--ls:-0.086em"><span class="k">출</span>·<span class="k">퇴근시간 할인제도 폐지</span><span class="s" style="--c:#5497dc;font-size:9.4px"> 17.1%</span></div>
<div class="b" style="left:162.40px;top:756.20px;width:25.18px;height:2.80px;background:#93c0ec;"></div>
<div class="t" style="left:166.80px;top:761.82px;font-size:8.8px;--c:#222;--ls:-0.059em"><span class="k">기타</span><span class="s" style="--c:#93c0ec;font-size:9.4px"> 10.3%</span></div>
<div class="t" style="left:335.10px;top:656.96px;font-size:11.8px;--c:#111;font-weight:700;--ls:-0.064em"><span class="k">주말</span>·<span class="k">공휴일</span><span class="s" style="--c:#1f63b5"> <span class="k">할증</span></span></div>
<div class="t" style="left:379.40px;top:676.88px;font-size:9.3px;--c:#222;--ls:-0.027em;transform:translateX(-50%)"><span class="k">개선 필요하다</span> <span class="s" style="--c:#1d559c;font-size:10.4px;font-weight:700">60.6%</span></div>
<div class="t" style="left:393.00px;top:703.71px;font-size:7.8px;--c:#fff;font-weight:700;transform:translateX(-50%)">14.0%</div>
<div class="t" style="left:392.60px;top:739.71px;font-size:7.8px;--c:#fff;font-weight:700;transform:translateX(-50%)">46.6%</div>
<div class="t" style="left:359.80px;top:723.81px;font-size:7.8px;--c:#fff;font-weight:700;transform:translateX(-50%)">31.4%</div>
<div class="t" style="left:371.40px;top:698.18px;font-size:5.6px;--c:#fff;font-weight:700;transform:translateX(-50%)">8.0</div>
<div class="t" style="left:373.60px;top:703.68px;font-size:5.6px;--c:#fff;font-weight:700;transform:translateX(-50%)">%</div>
<div class="b" style="left:449.20px;top:667.20px;width:49.20px;height:11.60px;background:#e5e6e9;border-radius:5.8px"></div>
<div class="t" style="left:473.90px;top:669.75px;font-size:7.3px;--c:#555;--ls:-0.031em;transform:translateX(-50%)"><span class="k r">개선 방향</span></div>
<div class="t" style="left:504.10px;top:669.51px;font-size:7.8px;--c:#222;--ls:-0.039em"><span class="k">사례수</span> : 606</div>
<div class="b" style="left:442.60px;top:680.00px;width:0.80px;height:92.50px;background:#c5cfdd;"></div>
<div class="b" style="left:442.80px;top:687.50px;width:60.88px;height:2.80px;background:#5497dc;"></div>
<div class="t" style="left:447.20px;top:693.42px;font-size:8.8px;--c:#222;--ls:-0.039em"><span class="k">할증률 축소</span><span class="s" style="--c:#8a8a8a;font-size:6.4px">(<span class="k">현행</span> 5%)</span><span class="s" style="--c:#5497dc;font-size:9.4px"> 24.9%</span></div>
<div class="b" style="left:442.80px;top:708.80px;width:83.86px;height:2.80px;background:#3672c0;"></div>
<div class="t" style="left:447.20px;top:713.92px;font-size:8.8px;--c:#222;--ls:-0.003em"><span class="k">할증시간 축소</span><span class="s" style="--c:#3672c0;font-size:9.4px"> 34.3%</span></div>
<div class="t" style="left:447.20px;top:724.69px;font-size:6.8px;--c:#8a8a8a;--ls:-0.020em">(<span class="k">현행</span> 7~21<span class="k">시</span>)</div>
<div class="b" style="left:442.80px;top:737.20px;width:84.84px;height:2.80px;background:#0b3b7c;"></div>
<div class="t" style="left:447.20px;top:742.92px;font-size:8.8px;--c:#222;--ls:-0.056em"><span class="s" style="--c:#1d4f97;font-weight:700"><span class="k">주말</span>·<span class="k">공휴일 할증제도 폐지</span></span><span class="s" style="--c:#1d4f97;font-size:9.4px"> 34.7%</span></div>
<div class="b" style="left:442.80px;top:756.20px;width:14.91px;height:2.80px;background:#93c0ec;"></div>
<div class="t" style="left:447.20px;top:761.82px;font-size:8.8px;--c:#222;--ls:-0.074em"><span class="k">기타</span><span class="s" style="--c:#93c0ec;font-size:9.4px"> 6.1%</span></div>
<div class="t" style="left:54.70px;top:802.74px;font-size:10.2px;--c:#5a9bd8;font-weight:700;--ls:0.017em"><span class="k">상습 과적</span>·<span class="k">적재불량 화물차</span></div>
<div class="t" style="left:54.70px;top:815.95px;font-size:11.2px;--c:#111;font-weight:700;--ls:-0.036em"><span class="k">심야할인 한시 제외</span></div>
<div class="t" style="left:54.70px;top:829.15px;font-size:11.2px;--c:#111;font-weight:700;--ls:0.007em"><span class="k">방안 도입</span><span class="s" style="font-weight:400">(<span class="k r">신설</span>)</span></div>
<div class="t" style="left:230.40px;top:814.61px;font-size:7.8px;--c:#fff;font-weight:700;transform:translateX(-50%)">33.3%</div>
<div class="t" style="left:203.00px;top:843.01px;font-size:7.8px;--c:#fff;font-weight:700;transform:translateX(-50%)">48.2%</div>
<div class="t" style="left:194.80px;top:806.81px;font-size:7.8px;--c:#fff;font-weight:700;transform:translateX(-50%)">15.1%</div>
<div class="t" style="left:205.40px;top:783.29px;font-size:6.4px;--c:#ea6a62;font-weight:700;transform:translateX(-50%)">3.4%</div>
<div class="t" style="left:257.40px;top:815.83px;font-size:9.4px;--c:#1a1a1a;--ls:-0.095em"><span class="k">도입</span></div>
<div class="t" style="left:257.40px;top:826.63px;font-size:9.4px;--c:#1a1a1a;--ls:-0.028em"><span class="k">필요하다</span></div>
<div class="t" style="left:257.60px;top:838.74px;font-size:10.4px;--c:#1f5496;font-weight:700;transform:scaleX(0.9156);transform-origin:0 0">81.5%</div>
<div class="t" style="left:335.30px;top:803.44px;font-size:10.2px;--c:#5a9bd8;font-weight:700;--ls:0.044em"><span class="k">상습 음주</span>·<span class="k">과속 등</span></div>
<div class="t" style="left:335.30px;top:816.64px;font-size:10.2px;--c:#5a9bd8;font-weight:700;--ls:0.050em"><span class="k">법규위반 차량</span></div>
<div class="t" style="left:335.30px;top:830.45px;font-size:11.2px;--c:#111;font-weight:700;--ls:-0.021em"><span class="k">통행료 할인 한시 제외</span></div>
<div class="t" style="left:335.30px;top:843.55px;font-size:11.2px;--c:#111;font-weight:700;--ls:0.007em"><span class="k">방안 도입</span><span class="s" style="font-weight:400">(<span class="k r">신설</span>)</span></div>
<div class="t" style="left:499.00px;top:820.71px;font-size:7.8px;--c:#fff;font-weight:700;transform:translateX(-50%)">46.3%</div>
<div class="t" style="left:463.30px;top:835.21px;font-size:7.8px;--c:#fff;font-weight:700;transform:translateX(-50%)">39.6%</div>
<div class="t" style="left:465.40px;top:803.51px;font-size:7.8px;--c:#fff;font-weight:700;transform:translateX(-50%)">11.4%</div>
<div class="t" style="left:472.90px;top:783.49px;font-size:6.4px;--c:#ea6a62;font-weight:700;transform:translateX(-50%)">2.7%</div>
<div class="t" style="left:525.40px;top:815.63px;font-size:9.4px;--c:#1a1a1a;--ls:-0.095em"><span class="k">도입</span></div>
<div class="t" style="left:525.40px;top:826.43px;font-size:9.4px;--c:#1a1a1a;--ls:-0.028em"><span class="k">필요하다</span></div>
<div class="t" style="left:525.60px;top:838.74px;font-size:10.4px;--c:#1f5496;font-weight:700;transform:scaleX(0.936);transform-origin:0 0">85.9%</div>
<div class="b" style="left:488px;top:862.5px;width:130px;height:28px;font:italic 700 27px/28px 'Liberation Sans',sans-serif;color:rgba(255,255,255,.78);letter-spacing:-.5px;transform:scaleX(1.275);transform-origin:0 0;text-shadow:0.5px 0.5px 1px rgba(70,110,160,.22)">NEWSIS</div>
</div>
</body></html>
